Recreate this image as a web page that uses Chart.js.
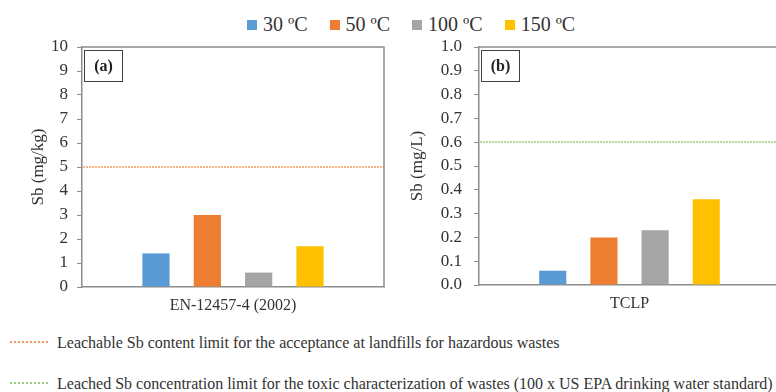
<!DOCTYPE html>
<html>
<head>
<meta charset="utf-8">
<script src="https://cdn.jsdelivr.net/npm/chart.js@4.4.1/dist/chart.umd.min.js"></script>
<style>
  html, body { margin: 0; padding: 0; background: #fff; }
  body { width: 776px; height: 392px; overflow: hidden; position: relative;
         font-family: "Liberation Serif", "Times New Roman", Tinos, "DejaVu Serif", "Noto Serif", serif; color: #333; }
  .box { position: absolute; top: 0; height: 320px; }
  #legend { position: absolute; top: 12px; left: 247px; display: flex; gap: 22px;
            font-size: 20px; line-height: 24px; white-space: nowrap; }
  #legend .sw { display: inline-block; width: 10px; height: 10px; margin-right: 6px; vertical-align: 1px; }
  .note { position: absolute; left: 10px; font-size: 16px; white-space: nowrap; line-height: 18px; }
  .note .ln { display: inline-block; width: 38px; border-top: 2px dotted; vertical-align: 5px; margin-right: 9px; }
</style>
</head>
<body>
<div id="legend"></div>
<div class="box" style="left:0;width:392px"><canvas id="chartA"></canvas></div>
<div class="box" style="left:392px;width:388px"><canvas id="chartB"></canvas></div>
<div class="note" id="noteA" style="top:334px"></div>
<div class="note" id="noteB" style="top:375px"></div>
<script>
// series / categories
var temps = ['30 ºC', '50 ºC', '100 ºC', '150 ºC']
var testA = ['EN-12457-4 (2002)']
var valuesA = [1.4, 3.0, 0.6, 1.7]
var limitA = 5
var testB = ['TCLP']
var valuesB = [0.06, 0.20, 0.23, 0.36]
var limitB = 0.6
var noteA = 'Leachable Sb content limit for the acceptance at landfills for hazardous wastes'
var noteB = 'Leached Sb concentration limit for the toxic characterization of wastes (100 x US EPA drinking water standard)'

var colors = ['#5B9BD5', '#ED7D31', '#A5A5A5', '#FFC000']
var limitColors = ['#F39A5C', '#9CCB7A']
var serif = '"Liberation Serif", "Times New Roman", Tinos, "DejaVu Serif", "Noto Serif", serif'

// html legends
var lg = document.getElementById('legend')
temps.forEach(function(t, i) {
  var s = document.createElement('span')
  s.innerHTML = '<span class="sw" style="background:' + colors[i] + '"></span>' + t
  lg.appendChild(s)
})
document.getElementById('noteA').innerHTML = '<span class="ln" style="border-color:' + limitColors[0] + '"></span>' + noteA
document.getElementById('noteB').innerHTML = '<span class="ln" style="border-color:' + limitColors[1] + '"></span>' + noteB

// frame, limit line and panel tag
function panelPlugin(opt) {
  return {
    id: 'panel' + opt.tag,
    afterDraw: function(chart) {
      var ctx = chart.ctx, a = chart.chartArea
      ctx.save()
      // limit line
      var y = Math.round(chart.scales.y.getPixelForValue(opt.limit))
      ctx.strokeStyle = opt.limitColor
      ctx.lineWidth = 1.6
      ctx.setLineDash([2, 1])
      ctx.beginPath(); ctx.moveTo(a.left + 1, y); ctx.lineTo(a.right, y); ctx.stroke()
      ctx.setLineDash([])
      // top / right frame
      ctx.strokeStyle = '#8c8c8c'
      ctx.lineWidth = 1.5
      ctx.beginPath()
      ctx.moveTo(a.left, a.top); ctx.lineTo(a.right, a.top)
      if (opt.rightEdge) ctx.lineTo(a.right, a.bottom)
      ctx.stroke()
      // tag box
      ctx.strokeStyle = '#404040'
      ctx.lineWidth = 1
      ctx.strokeRect(a.left + 2.5, a.top + 3.5, 38, 31)
      ctx.fillStyle = '#222'
      ctx.font = 'bold 16px ' + serif
      ctx.textAlign = 'center'
      ctx.textBaseline = 'middle'
      ctx.fillText(opt.tag, a.left + 21.5, a.top + 19.5)
      ctx.restore()
    }
  }
}

function makeChart(id, cats, values, opt) {
  return new Chart(document.getElementById(id), {
    type: 'bar',
    data: {
      labels: cats,
      datasets: temps.map(function(t, i) {
        return { label: t, data: [values[i]], backgroundColor: colors[i] }
      })
    },
    options: {
      responsive: true,
      maintainAspectRatio: false,
      animation: false,
      events: [],
      categoryPercentage: 0.68,
      barPercentage: 0.53,
      layout: { padding: { top: 47, right: opt.padRight, left: 0, bottom: 0 } },
      plugins: {
        legend: { display: false },
        tooltip: { enabled: false }
      },
      scales: {
        x: {
          grid: { display: false, drawTicks: false },
          border: { display: true, color: '#8c8c8c', width: 1.5 },
          ticks: { color: '#333', padding: 9, font: { family: serif, size: 16 } },
          afterFit: function(s) { s.height = opt.xHeight }
        },
        y: {
          min: 0,
          max: opt.max,
          grid: { drawOnChartArea: false, drawTicks: true, tickLength: 5, color: '#8c8c8c', lineWidth: 1 },
          border: { display: true, color: '#8c8c8c', width: 1.5 },
          ticks: {
            stepSize: opt.step,
            color: '#333',
            padding: opt.tickPad,
            font: { family: serif, size: 17 },
            callback: opt.fmt
          },
          title: {
            display: true,
            text: opt.title,
            color: '#333',
            font: { family: serif, size: 17 },
            padding: { top: opt.titlePad, bottom: 0 }
          },
          afterFit: function(s) { s.width = opt.yWidth }
        }
      }
    },
    plugins: [panelPlugin(opt)]
  })
}

makeChart('chartA', testA, valuesA, {
  max: 10, step: 1, fmt: function(v) { return v },
  title: 'Sb (mg/kg)', titlePad: 28, yWidth: 82, xHeight: 33, tickPad: 9, padRight: 8,
  limit: limitA, limitColor: limitColors[0], tag: '(a)', rightEdge: true
})
makeChart('chartB', testB, valuesB, {
  max: 1, step: 0.1, fmt: function(v) { return v.toFixed(1) },
  title: 'Sb (mg/L)', titlePad: 15, yWidth: 87, xHeight: 35, tickPad: 12, padRight: 0,
  limit: limitB, limitColor: limitColors[1], tag: '(b)', rightEdge: false
})
</script>
</body>
</html>
